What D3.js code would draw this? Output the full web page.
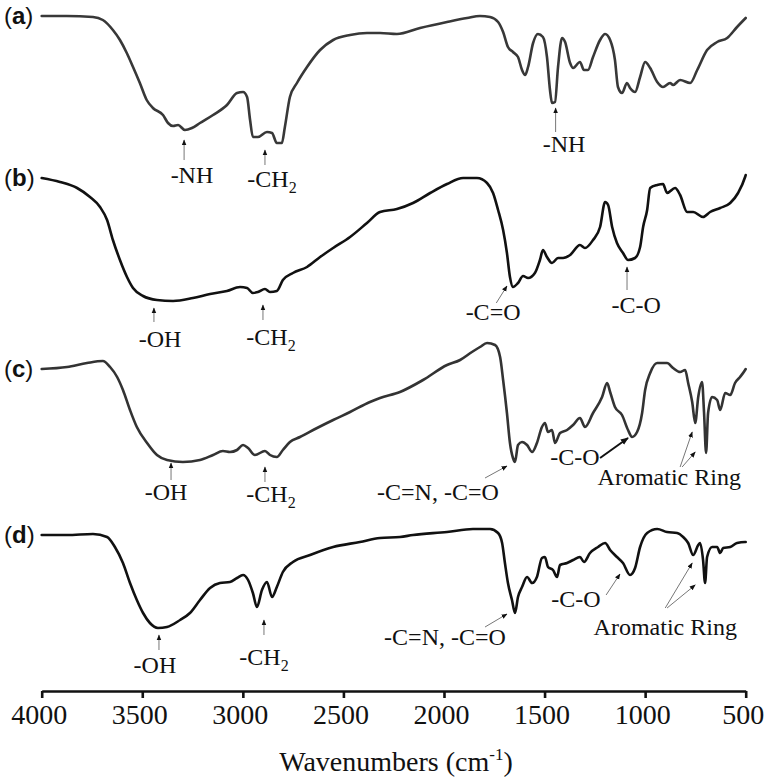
<!DOCTYPE html>
<html>
<head>
<meta charset="utf-8">
<script src="https://cdn.jsdelivr.net/npm/d3@7"></script>
<style>
  html, body { margin: 0; padding: 0; background: #fff; }
  svg { display: block; }
  .serif { font-family: 'Liberation Serif', 'Times New Roman', serif; }
  .sans { font-family: 'Liberation Sans', Arial, sans-serif; }
</style>
</head>
<body>
<svg id="chart" width="767" height="780"></svg>
<script>
// ---------------- DATA ----------------
// Wavenumber axis ticks (cm-1)
const tickValues = [4000, 3500, 3000, 2500, 2000, 1500, 1000, 500];
const tickLabels = ["4000", "3500", "3000", "2500", "2000", "1500", "1000", "500"];
const panelLabels = ["a", "b", "c", "d"];

// Spectra: [wavenumber, transmittance (a.u., stacked/offset)]
const spectrumA = [
  [4000,684],[3876,684],[3745,683],[3696,680],[3646,670],[3611,660],[3577,647],[3546,633],
  [3512,617],[3478,600],[3447,592],[3397,585],[3372,577],[3347,574],[3322,575],[3288,570],
  [3253,572],[3213,577],[3148,585],[3079,595],[3029,607],[2999,608],[2979,603],[2964,580],
  [2950,563],[2925,563],[2880,568],[2855,567],[2831,557],[2806,557],[2791,573],[2766,603],
  [2731,617],[2681,633],[2616,650],[2551,660],[2467,665],[2383,667],[2318,667],[2234,666],
  [2119,672],[1985,678],[1885,682],[1821,684],[1771,683],[1731,678],[1706,668],[1682,653],
  [1657,648],[1632,643],[1612,630],[1597,625],[1582,633],[1557,657],[1533,666],[1508,663],
  [1488,643],[1473,610],[1463,597],[1448,598],[1433,633],[1413,662],[1398,658],[1373,637],
  [1358,632],[1324,638],[1304,630],[1284,630],[1259,643],[1224,660],[1199,666],[1174,660],
  [1150,640],[1135,613],[1115,607],[1090,617],[1075,612],[1050,608],[1025,623],[1000,638],
  [975,632],[940,618],[911,613],[876,617],[861,615],[826,620],[776,617],[741,630],
  [692,650],[642,658],[592,662],[543,673],[500,682]
];
const spectrumB = [
  [4000,522],[3909,518],[3824,512],[3760,503],[3710,493],[3675,480],[3646,460],[3611,440],
  [3576,423],[3546,412],[3496,404],[3427,400],[3347,399],[3248,402],[3163,406],[3079,409],
  [3014,413],[2979,412],[2950,407],[2925,408],[2890,411],[2865,408],[2831,409],[2801,420],
  [2751,427],[2681,433],[2616,443],[2551,452],[2467,463],[2383,477],[2318,488],[2234,491],
  [2154,497],[2069,507],[1985,516],[1905,522],[1836,522],[1786,517],[1756,507],[1731,490],
  [1706,470],[1687,447],[1672,423],[1657,413],[1632,417],[1607,424],[1582,422],[1548,427],
  [1523,440],[1508,450],[1488,443],[1463,437],[1433,442],[1408,442],[1373,445],[1324,455],
  [1299,452],[1259,460],[1224,473],[1199,498],[1184,495],[1164,473],[1140,457],[1110,447],
  [1085,440],[1050,442],[1025,453],[1010,473],[990,490],[975,512],[940,515],[911,516],
  [891,507],[851,512],[826,505],[791,488],[761,488],[712,483],[677,488],[627,492],
  [577,497],[538,507],[503,523],[500,525]
];
const spectrumC = [
  [4000,331],[3874,333],[3775,337],[3696,339],[3660,333],[3625,323],[3596,310],[3561,290],
  [3527,273],[3476,257],[3427,245],[3377,240],[3298,238],[3213,240],[3148,245],[3099,249],
  [3064,248],[3029,250],[2999,255],[2974,252],[2940,245],[2890,249],[2865,245],[2831,243],
  [2801,250],[2766,258],[2716,263],[2631,272],[2551,280],[2467,288],[2368,298],[2318,302],
  [2219,308],[2104,320],[1985,335],[1920,340],[1861,348],[1821,353],[1786,357],[1746,355],
  [1721,343],[1706,320],[1687,287],[1672,257],[1657,242],[1647,238],[1632,255],[1612,258],
  [1587,255],[1562,248],[1538,257],[1513,273],[1498,277],[1483,268],[1463,270],[1448,257],
  [1423,267],[1388,270],[1358,275],[1324,282],[1299,273],[1259,287],[1214,303],[1189,317],
  [1174,308],[1150,293],[1115,285],[1085,270],[1065,263],[1040,268],[1015,287],[1000,310],
  [975,327],[940,337],[891,337],[861,332],[826,328],[801,330],[786,317],[766,298],
  [751,277],[736,303],[717,318],[707,287],[697,247],[687,287],[667,303],[642,300],
  [627,290],[602,307],[577,305],[553,317],[528,323],[503,330],[500,331]
];
const spectrumD = [
  [4000,165],[3874,165],[3745,166],[3675,163],[3636,153],[3596,137],[3561,117],[3527,100],
  [3496,87],[3462,77],[3422,72],[3377,73],[3312,80],[3263,87],[3213,100],[3163,112],
  [3114,117],[3064,118],[3029,122],[2999,125],[2974,120],[2950,107],[2930,93],[2905,110],
  [2880,118],[2855,103],[2831,113],[2801,128],[2751,138],[2666,145],[2551,153],[2418,158],
  [2318,162],[2219,163],[2154,165],[1985,168],[1856,171],[1771,171],[1731,167],[1711,157],
  [1697,137],[1682,117],[1662,100],[1647,87],[1632,103],[1612,113],[1587,123],[1562,117],
  [1538,123],[1513,142],[1498,143],[1483,133],[1458,130],[1438,123],[1423,135],[1388,137],
  [1358,140],[1324,143],[1304,138],[1274,147],[1234,153],[1199,157],[1174,150],[1140,143],
  [1110,137],[1075,125],[1050,132],[1025,153],[990,167],[940,171],[891,168],[841,167],
  [811,163],[786,157],[761,145],[736,155],[727,157],[712,140],[702,117],[692,143],
  [667,153],[642,153],[627,147],[612,152],[577,153],[543,157],[503,158],[500,158]
];
const spectra = [spectrumA, spectrumB, spectrumC, spectrumD];
const traceColors = ["#383838", "#111111", "#333333", "#111111"];

// Annotations: text, text anchor (wavenumber, value), arrows [tailW, tailV, tipW, tipV]
const annoTexts = ["-NH", "-CH|2", "-NH", "-OH", "-CH|2", "-C=O", "-C-O",
                   "-OH", "-CH|2", "-C=N, -C=O", "-C-O", "Aromatic Ring",
                   "-OH", "-CH|2", "-C=N, -C=O", "-C-O", "Aromatic Ring"];
const annoTextPos = [[3253,517],[2855,513],[1403,548],[3412,353],[2860,355],[1756,380],[1045,387],
                     [3382,200],[2860,198],[2030,200],[1349,235],[880,215],
                     [3437,27],[2895,35],[1995,55],[1344,93],[900,65]];
const annoArrows = [
  [[3292,540,3292,560]], [[2890,535,2890,550]], [[1445,568,1445,592]],
  [[3442,378,3442,392]], [[2900,380,2900,395]], [[1740,397,1687,414]], [[1090,410,1090,433]],
  [[3357,220,3357,237]], [[2890,218,2890,233]], [[1796,222,1687,234]], [[1224,242,1085,262]],
  [[826,233,766,268],[816,233,751,248]],
  [[3417,50,3417,65]], [[2895,65,2895,80]], [[1796,73,1687,86]], [[1194,105,1125,126]],
  [[900,92,766,137],[891,92,751,115]]
];
const annoArrowBold = [false,false,false,false,false,false,false,false,false,false,true,false,false,false,false,false,false];

// ---------------- CHART ----------------
const svg = d3.select("#chart");
svg.append("rect").attr("width", 767).attr("height", 780).attr("fill", "#fff");

const x = d3.scaleLinear().domain([4000, 500]).range([41.7, 745.7]);
const y = d3.scaleLinear().domain([0, 700]).range([700, 0]);
const axisY = 691;

const defs = svg.append("defs");
defs.append("marker").attr("id", "ah").attr("viewBox", "0 0 10 10")
  .attr("refX", 9).attr("refY", 5).attr("markerWidth", 6).attr("markerHeight", 6)
  .attr("markerUnits", "userSpaceOnUse").attr("orient", "auto")
  .append("path").attr("d", "M0,1 L10,5 L0,9 Z").attr("fill", "#111");
defs.append("marker").attr("id", "ahb").attr("viewBox", "0 0 10 10")
  .attr("refX", 9).attr("refY", 5).attr("markerWidth", 8).attr("markerHeight", 8)
  .attr("markerUnits", "userSpaceOnUse").attr("orient", "auto")
  .append("path").attr("d", "M0,1 L10,5 L0,9 Z").attr("fill", "#111");

const line = d3.line().x(d => x(d[0])).y(d => y(d[1])).curve(d3.curveMonotoneX);

spectra.forEach((s, i) => {
  svg.append("path").datum(s).attr("d", line)
    .attr("fill", "none").attr("stroke", traceColors[i])
    .attr("stroke-width", 2.6).attr("stroke-linejoin", "round").attr("stroke-linecap", "round");
  const t = svg.append("text").attr("class", "sans")
    .attr("x", 4).attr("y", y(s[0][1]) + 8)
    .attr("font-size", 24).attr("fill", "#111");
  t.append("tspan").text("(");
  t.append("tspan").attr("font-weight", "bold").text(panelLabels[i]);
  t.append("tspan").text(")");
});

// annotations
annoTexts.forEach((txt, i) => {
  const [tw, tv] = annoTextPos[i];
  const t = svg.append("text").attr("class", "serif").attr("x", x(tw)).attr("y", y(tv))
    .attr("text-anchor", "middle")
    .attr("font-size", 24).attr("fill", "#111");
  const parts = txt.split("|");
  t.append("tspan").text(parts[0]);
  if (parts.length > 1) {
    t.append("tspan").attr("font-size", 16).attr("dy", 6).text(parts[1]);
  }
  annoArrows[i].forEach(a => {
    svg.append("line")
      .attr("x1", x(a[0])).attr("y1", y(a[1])).attr("x2", x(a[2])).attr("y2", y(a[3]))
      .attr("stroke", annoArrowBold[i] ? "#111" : "#777")
      .attr("stroke-width", annoArrowBold[i] ? 2 : 1)
      .attr("marker-end", annoArrowBold[i] ? "url(#ahb)" : "url(#ah)");
  });
});

// x axis
const axis = d3.axisBottom(x).tickValues(tickValues)
  .tickFormat((d, i) => tickLabels[i]).tickSize(7).tickSizeOuter(0);
const gAxis = svg.append("g").attr("transform", `translate(0,${axisY})`).call(axis);
gAxis.attr("font-family", null);
gAxis.select(".domain").attr("stroke", "#111").attr("stroke-width", 2.6);
gAxis.selectAll(".tick line").attr("stroke", "#111").attr("stroke-width", 2.6);
gAxis.selectAll(".tick text").attr("class", "serif")
  .attr("font-size", 28).attr("fill", "#111").attr("dx", -3).attr("y", 13).attr("dy", "0.71em");

const title = svg.append("text").attr("class", "serif").attr("x", 396).attr("y", 771)
  .attr("text-anchor", "middle")
  .attr("font-size", 28).attr("fill", "#111");
title.append("tspan").text("Wavenumbers (cm");
title.append("tspan").attr("font-size", 17).attr("dy", -11).text("-1");
title.append("tspan").attr("dy", 11).text(")");
</script>
</body>
</html>
